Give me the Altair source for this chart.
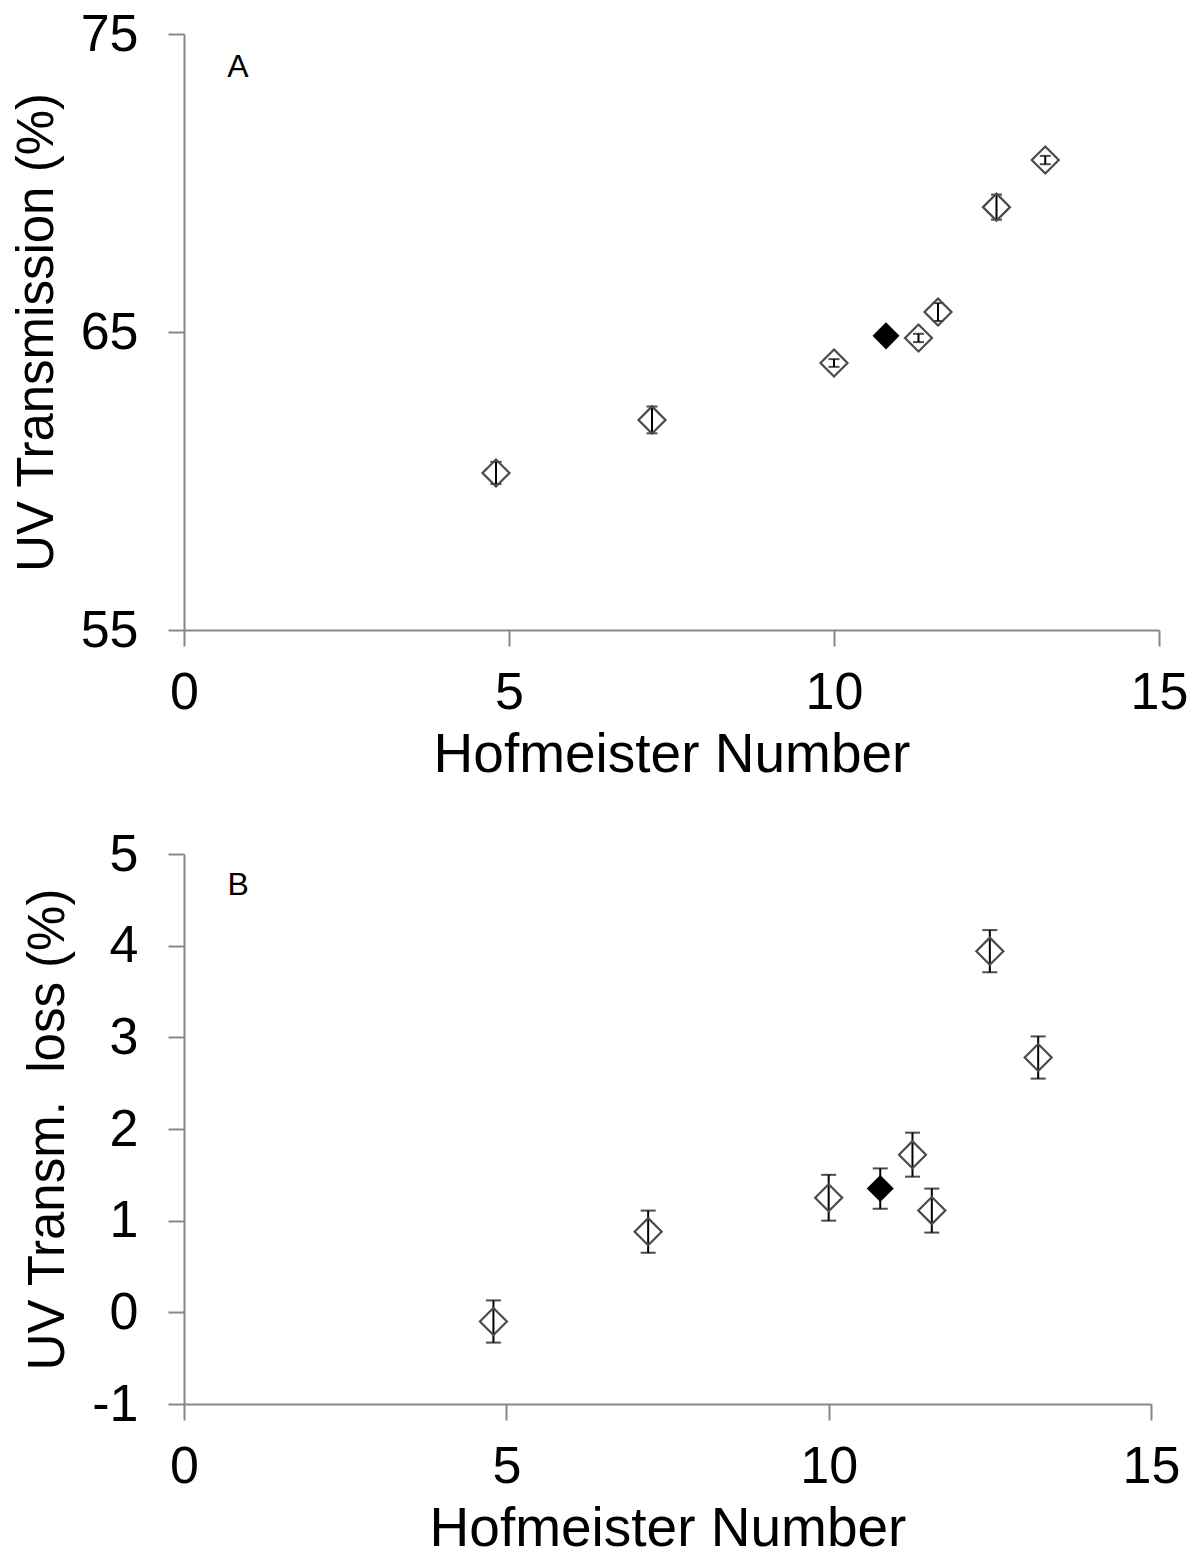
import altair as alt
import pandas as pd

# Hofmeister numbers of the salts (x), shared by both panels
hofmeister = [4.8, 7.2, 10.0, 10.8, 11.3, 11.6, 12.5, 13.25]
# Panel A: UV transmission (%) and error
uv_transmission = [60.27, 62.05, 63.96, 64.87, 64.8, 65.67, 69.19, 70.77]
uv_transmission_err = [0.37, 0.45, 0.13, 0.1, 0.14, 0.3, 0.42, 0.14]
# Panel B: UV transmission loss (%) and error
uv_loss = [-0.10, 0.88, 1.25, 1.35, 1.72, 1.11, 3.94, 2.78]
uv_loss_err = [0.23, 0.23, 0.25, 0.22, 0.24, 0.24, 0.23, 0.23]
# which point is drawn filled
reference_salt = [False, False, False, True, False, False, False, False]

x_ticks = [0, 5, 10, 15]
ya_ticks = [55, 65, 75]
yb_ticks = [-1, 0, 1, 2, 3, 4, 5]

FONT = "Liberation Sans"
AXIS_GRAY = "#878787"


def panel(yvals, errs, ydomain, yticks, ytitle, label, label_xy, w, h, cap):
    df = pd.DataFrame({"x": hofmeister, "y": yvals, "err": errs, "filled": reference_salt})
    df["lo"] = df["y"] - df["err"]
    df["hi"] = df["y"] + df["err"]

    xenc = alt.X(
        "x:Q",
        scale=alt.Scale(domain=[0, 15], nice=False, zero=False),
        axis=alt.Axis(values=x_ticks, title="Hofmeister Number", labelFlush=False,
                      labelPadding=21, titlePadding=10, labelExpr="datum.value + ''"),
    )
    yscale = alt.Scale(domain=ydomain, nice=False, zero=False)
    yaxis = alt.Axis(values=yticks, title=ytitle, labelFlush=False, labelPadding=30,
                     titlePadding=17, labelExpr="datum.value + ''")

    base = alt.Chart(df)
    bar = base.mark_rule(color="black", strokeWidth=2).encode(
        x=xenc, y=alt.Y("lo:Q", scale=yscale, axis=yaxis), y2="hi:Q"
    )
    cap_lo = base.mark_tick(color="black", thickness=2, size=cap, orient="horizontal").encode(
        x="x:Q", y="lo:Q"
    )
    cap_hi = base.mark_tick(color="black", thickness=2, size=cap, orient="horizontal").encode(
        x="x:Q", y="hi:Q"
    )
    open_pts = base.transform_filter("!datum.filled").mark_point(
        shape="diamond", size=730, filled=False, stroke="#4a4a4a", strokeWidth=2.2, opacity=1
    ).encode(x="x:Q", y="y:Q")
    filled_pts = base.transform_filter("datum.filled").mark_point(
        shape="diamond", size=730, filled=True, color="black", opacity=1
    ).encode(x="x:Q", y="y:Q")

    lab = alt.Chart(pd.DataFrame({"x": [label_xy[0]], "y": [label_xy[1]], "t": [label]})).mark_text(
        font=FONT, fontSize=32, color="black", align="center", baseline="middle"
    ).encode(x="x:Q", y="y:Q", text="t:N")

    return alt.layer(bar, cap_lo, cap_hi, open_pts, filled_pts, lab).properties(width=w, height=h)


panel_a = panel(uv_transmission, uv_transmission_err, [55, 75], ya_ticks,
                "UV Transmission (%)", "A", (0.83, 73.9), 975, 596, 11)
panel_b = panel(uv_loss, uv_loss_err, [-1, 5], yb_ticks,
                "UV Transm.\u00a0 loss (%)", "B", (0.84, 4.66), 967, 550, 15)

chart = alt.vconcat(panel_a, panel_b, spacing=46).properties(
    padding={"left": 3, "top": 0, "right": 0, "bottom": 0}
).configure_view(
    stroke=None
).configure_axis(
    grid=False,
    domainColor=AXIS_GRAY,
    domainWidth=2,
    tickColor=AXIS_GRAY,
    tickWidth=2,
    tickSize=16,
    labelFont=FONT,
    labelFontSize=52,
    labelColor="black",
    titleFont=FONT,
    titleFontWeight="normal",
    titleColor="black",
).configure_axisX(
    titleFontSize=55
).configure_axisY(
    titleFontSize=51
)

chart.save("out.html", embed_options={"renderer": "svg", "actions": False})
